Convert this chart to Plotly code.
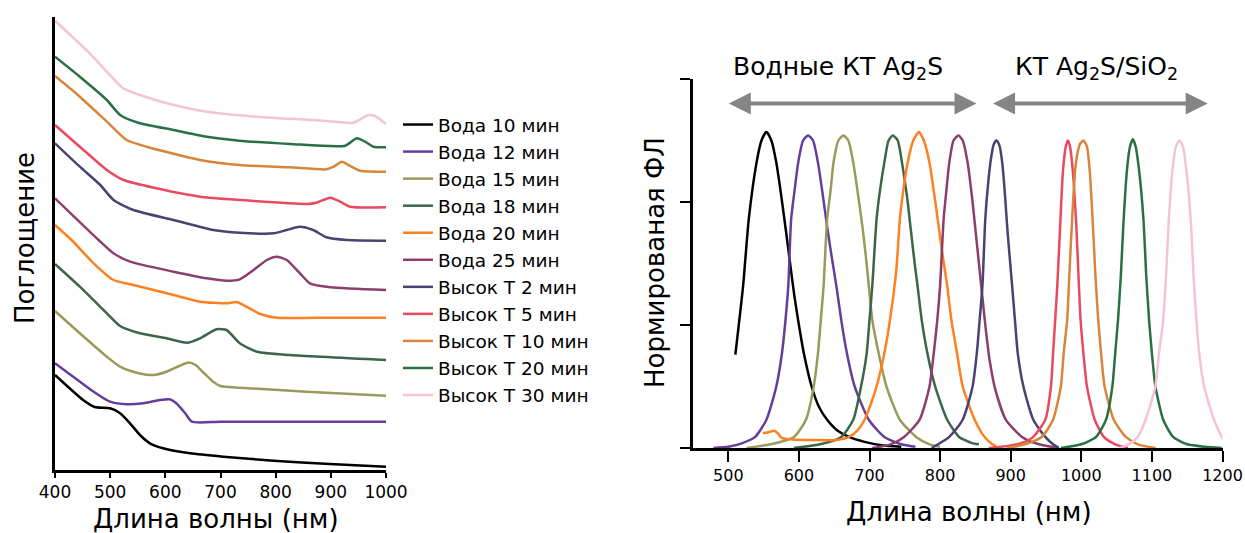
import plotly.graph_objects as go

FONT = "DejaVu Sans"

names = ["Вода 10 мин", "Вода 12 мин", "Вода 15 мин", "Вода 18 мин", "Вода 20 мин",
         "Вода 25 мин", "Высок T 2 мин", "Высок T 5 мин", "Высок T 10 мин",
         "Высок T 20 мин", "Высок T 30 мин"]
colors = ["#000000", "#643d9d", "#999a5b", "#3b6647", "#ff8020", "#8c3e6c",
          "#4a4270", "#e84a5f", "#d8853a", "#2a7045", "#f2c4d6"]

# ---------- Absorption (left), arbitrary offset units ----------
abs_x = [
    [400, 451, 472, 500, 518, 536, 554, 572, 596, 645, 705, 796, 898, 1000],
    [400, 433, 470, 500, 530, 560, 590, 608, 620, 636, 648, 700, 800, 900, 1000],
    [400, 445, 494, 518, 548, 578, 602, 625, 642, 655, 668, 685, 700, 735, 856, 1000],
    [400, 445, 494, 518, 554, 602, 639, 663, 693, 711, 735, 766, 826, 1000],
    [400, 430, 470, 506, 542, 615, 663, 711, 729, 747, 772, 802, 900, 1000],
    [400, 479, 506, 536, 615, 675, 711, 735, 760, 784, 802, 820, 844, 862, 899, 1000],
    [400, 445, 482, 506, 542, 615, 687, 735, 796, 820, 844, 868, 892, 929, 1000],
    [400, 445, 494, 524, 584, 663, 735, 856, 874, 899, 917, 935, 1000],
    [400, 445, 494, 530, 566, 663, 735, 826, 892, 905, 920, 935, 953, 1000],
    [400, 445, 494, 518, 554, 615, 675, 735, 826, 926, 947, 962, 977, 1000],
    [400, 463, 524, 554, 615, 675, 766, 886, 941, 968, 980, 1000],
]
abs_y = [
    [95, 70, 63, 61.7, 56.7, 46.7, 35, 26.7, 21.7, 16.7, 13.3, 9.3, 6, 3.3],
    [106.7, 93.3, 78.3, 68.3, 65.7, 66.7, 70, 70.7, 66.7, 56.7, 48.3, 48.3, 48.3, 48.3, 48.3],
    [159, 136.7, 113.3, 103.3, 97.3, 95, 98.3, 104, 107.5, 105, 98, 89, 84, 82.3, 78.3, 74.3],
    [206, 183.3, 156.7, 144, 136.7, 131.7, 127.3, 131.7, 140.7, 140, 126.7, 118.3, 115, 110],
    [245, 230, 206.7, 190, 185, 175, 168.3, 166.7, 168, 163.3, 156, 152.3, 152.3, 152.3],
    [271.7, 230, 216.7, 208.3, 198.3, 191.7, 189.3, 190.7, 200, 210, 213.3, 210, 196.7, 186.7, 182.7, 180],
    [326.7, 303.3, 285, 270, 260, 250, 240, 237.3, 236.7, 240, 243.3, 240, 232.7, 230, 229.3],
    [345, 323.3, 300, 290, 281.7, 273.3, 270, 266, 267.3, 272.3, 268.3, 263.3, 262.7],
    [394, 373.3, 348.3, 330, 323.3, 310, 305, 302.7, 300.7, 303.3, 308.3, 304, 299.3, 298.3],
    [413.3, 393.3, 370, 355, 346.7, 340, 333.3, 329.3, 326, 324.3, 331.7, 328.3, 323.3, 322.7],
    [449.3, 416.7, 381.7, 375, 365, 358.3, 353.3, 349.3, 347.3, 355, 354, 346],
]

# ---------- Normalized PL (right) ----------
pl_x = [
    [510, 521, 529, 540, 547, 554, 561, 568, 575, 582, 588, 594, 600, 607, 618, 628, 640, 655, 671, 693, 720, 745],
    [479, 500, 520, 538, 554, 568, 576, 581, 585, 589, 594, 599, 606, 613, 620, 627, 634, 640, 646, 653, 660, 668, 679, 699, 721, 745, 765],
    [526, 560, 593, 610, 621, 627, 631, 635, 640, 645, 649, 656, 663, 670, 677, 684, 690, 695, 699, 704, 713, 724, 743, 766, 785, 800],
    [593, 630, 660, 677, 688, 696, 700, 704, 710, 715, 721, 727, 733, 740, 746, 753, 759, 764, 768, 774, 782, 793, 810, 827, 845, 855],
    [549, 558, 565, 570, 576, 590, 620, 654, 671, 684, 693, 702, 710, 721, 729, 738, 743, 748, 754, 762, 770, 777, 785, 792, 798, 804, 810, 816, 824, 832, 849, 863, 874, 882],
    [704, 730, 749, 771, 785, 791, 796, 800, 805, 809, 813, 819, 826, 832, 839, 845, 850, 855, 860, 865, 870, 878, 893, 916, 940, 968],
    [788, 813, 832, 846, 852, 856, 860, 864, 868, 872, 876, 880, 884, 888, 892, 895, 898, 902, 906, 910, 918, 932, 949, 960, 968],
    [869, 900, 920, 932, 949, 957, 960, 963, 966, 970, 974, 978, 981, 984, 988, 993, 996, 999, 1003, 1008, 1019, 1032, 1048, 1066],
    [894, 920, 944, 960, 971, 975, 980, 983, 987, 992, 998, 1003, 1008, 1012, 1016, 1020, 1024, 1028, 1033, 1046, 1063, 1080, 1105],
    [971, 1000, 1021, 1035, 1044, 1048, 1052, 1056, 1060, 1065, 1069, 1073, 1077, 1082, 1088, 1092, 1096, 1100, 1105, 1116, 1130, 1150, 1175, 1199],
    [1055, 1070, 1080, 1091, 1105, 1110, 1116, 1120, 1124, 1129, 1134, 1139, 1144, 1149, 1155, 1159, 1163, 1167, 1174, 1188, 1199, 1202],
]
pl_y = [
    [0.76, 1.32, 1.86, 2.32, 2.50, 2.57, 2.50, 2.32, 2.05, 1.75, 1.48, 1.22, 1.00, 0.77, 0.50, 0.34, 0.23, 0.14, 0.09, 0.05, 0.02, 0.01],
    [0, 0.01, 0.04, 0.09, 0.23, 0.50, 0.77, 1.04, 1.32, 1.86, 2.10, 2.32, 2.50, 2.54, 2.50, 2.32, 2.05, 1.80, 1.57, 1.32, 1.04, 0.77, 0.50, 0.23, 0.09, 0.03, 0.01],
    [0, 0.03, 0.09, 0.23, 0.50, 0.77, 1.04, 1.32, 1.86, 2.10, 2.32, 2.50, 2.54, 2.50, 2.32, 2.05, 1.80, 1.55, 1.32, 1.04, 0.77, 0.50, 0.23, 0.09, 0.03, 0.01],
    [0, 0.03, 0.09, 0.23, 0.50, 0.77, 1.04, 1.32, 1.86, 2.10, 2.32, 2.50, 2.54, 2.50, 2.32, 2.05, 1.75, 1.50, 1.32, 1.04, 0.77, 0.50, 0.23, 0.09, 0.04, 0.03],
    [0.12, 0.13, 0.14, 0.12, 0.08, 0.07, 0.065, 0.065, 0.09, 0.15, 0.23, 0.36, 0.50, 0.77, 1.04, 1.45, 1.86, 2.10, 2.32, 2.50, 2.57, 2.50, 2.32, 2.05, 1.80, 1.55, 1.32, 1.04, 0.77, 0.50, 0.23, 0.09, 0.03, 0.0],
    [0, 0.03, 0.09, 0.23, 0.50, 0.77, 1.04, 1.32, 1.86, 2.10, 2.32, 2.50, 2.54, 2.50, 2.32, 2.05, 1.78, 1.50, 1.22, 0.95, 0.72, 0.48, 0.23, 0.09, 0.03, 0.0],
    [0, 0.09, 0.23, 0.50, 0.77, 1.04, 1.32, 1.86, 2.15, 2.35, 2.47, 2.50, 2.46, 2.32, 2.05, 1.80, 1.59, 1.32, 1.04, 0.77, 0.50, 0.23, 0.09, 0.03, 0.0],
    [0, 0.02, 0.05, 0.09, 0.23, 0.50, 0.77, 1.04, 1.32, 1.80, 2.25, 2.45, 2.50, 2.45, 2.25, 1.80, 1.40, 1.04, 0.77, 0.50, 0.23, 0.09, 0.03, 0.0],
    [0, 0.03, 0.09, 0.23, 0.50, 0.77, 1.04, 1.40, 1.86, 2.30, 2.47, 2.50, 2.45, 2.25, 1.86, 1.40, 1.04, 0.77, 0.50, 0.23, 0.09, 0.03, 0.0],
    [0, 0.03, 0.09, 0.23, 0.50, 0.77, 1.04, 1.40, 1.86, 2.28, 2.45, 2.51, 2.45, 2.25, 1.86, 1.40, 1.04, 0.77, 0.50, 0.23, 0.09, 0.03, 0.01, 0.0],
    [0, 0.04, 0.09, 0.23, 0.50, 0.77, 1.04, 1.40, 1.86, 2.25, 2.45, 2.50, 2.45, 2.25, 1.86, 1.40, 1.04, 0.77, 0.50, 0.23, 0.09, 0.06],
]

abs_ticks = [400, 500, 600, 700, 800, 900, 1000]
pl_ticks = [500, 600, 700, 800, 900, 1000, 1100, 1200]

W, H = 1245, 533

def px(v):
    return v / W

def py(v):
    return 1 - v / H

fig = go.Figure()
for i in range(len(names)):
    fig.add_trace(go.Scatter(
        x=abs_x[i], y=abs_y[i], mode="lines", name=names[i],
        line=dict(color=colors[i], width=2.5, shape="spline", smoothing=0.6),
        xaxis="x", yaxis="y", showlegend=True))
for i in range(len(names)):
    fig.add_trace(go.Scatter(
        x=pl_x[i], y=pl_y[i], mode="lines", name=names[i],
        line=dict(color=colors[i], width=2.5, shape="spline", smoothing=0.6),
        xaxis="x2", yaxis="y2", showlegend=False))

axis_common = dict(showgrid=False, zeroline=False, showline=True, linecolor="black",
                   linewidth=2.5, ticks="outside", tickcolor="black", tickwidth=2,
                   automargin=False)

fig.update_layout(
    width=W, height=H,
    margin=dict(l=0, r=0, t=0, b=0, autoexpand=False),
    paper_bgcolor="white", plot_bgcolor="white",
    font=dict(family=FONT, color="black"),
    xaxis=dict(domain=[px(55), px(386)], range=[400, 1000], tickvals=abs_ticks,
               ticklen=5, tickfont=dict(size=17), anchor="y", **axis_common),
    yaxis=dict(domain=[py(470), py(17)], range=[0, 453], showline=True, linecolor="black",
               linewidth=2.5, showgrid=False, zeroline=False, ticks="",
               showticklabels=False, anchor="x", automargin=False),
    xaxis2=dict(domain=[px(693), px(1222.5)], range=[450, 1200], tickvals=pl_ticks,
                ticklen=11, tickfont=dict(size=16), anchor="y2", **axis_common),
    yaxis2=dict(domain=[py(448), py(79)], range=[0, 3], tickvals=[0, 1, 2, 3],
                ticklen=10, showticklabels=False, anchor="x2", **axis_common),
    legend=dict(x=px(398), y=py(106), xanchor="left", yanchor="top",
                font=dict(size=18.5, family=FONT), bgcolor="rgba(0,0,0,0)",
                itemwidth=30, tracegroupgap=0),
)

ann = []
ann.append(dict(text="Поглощение", x=px(25), y=py(238), xref="paper", yref="paper",
                textangle=-90, showarrow=False, font=dict(size=26),
                xanchor="center", yanchor="middle"))
ann.append(dict(text="Длина волны (нм)", x=px(216), y=py(519), xref="paper", yref="paper",
                showarrow=False, font=dict(size=26), xanchor="center", yanchor="middle"))
ann.append(dict(text="Длина волны (нм)", x=px(969), y=py(512), xref="paper", yref="paper",
                showarrow=False, font=dict(size=26), xanchor="center", yanchor="middle"))
ann.append(dict(text="Нормированая ФЛ", x=px(655), y=py(263), xref="paper", yref="paper",
                textangle=-90, showarrow=False, font=dict(size=26),
                xanchor="center", yanchor="middle"))
ann.append(dict(text="Водные КТ Ag<sub>2</sub>S", x=px(838), y=py(68), xref="paper",
                yref="paper", showarrow=False, font=dict(size=25),
                xanchor="center", yanchor="middle"))
ann.append(dict(text="КТ Ag<sub>2</sub>S/SiO<sub>2</sub>", x=px(1096), y=py(68), xref="paper",
                yref="paper", showarrow=False, font=dict(size=25),
                xanchor="center", yanchor="middle"))

arrow_spans = [(498.6, 851.6), (872.9, 1179.0)]
for a, b in arrow_spans:
    ann.append(dict(text="", x=b, y=2.80, ax=a, ay=2.80, xref="x2", yref="y2",
                    axref="x2", ayref="y2", showarrow=True, arrowside="end+start",
                    arrowhead=2, startarrowhead=2, arrowsize=1.1, startarrowsize=1.1,
                    arrowwidth=4, arrowcolor="#858585"))
fig.update_layout(annotations=ann)

fig.write_html("out.html")
